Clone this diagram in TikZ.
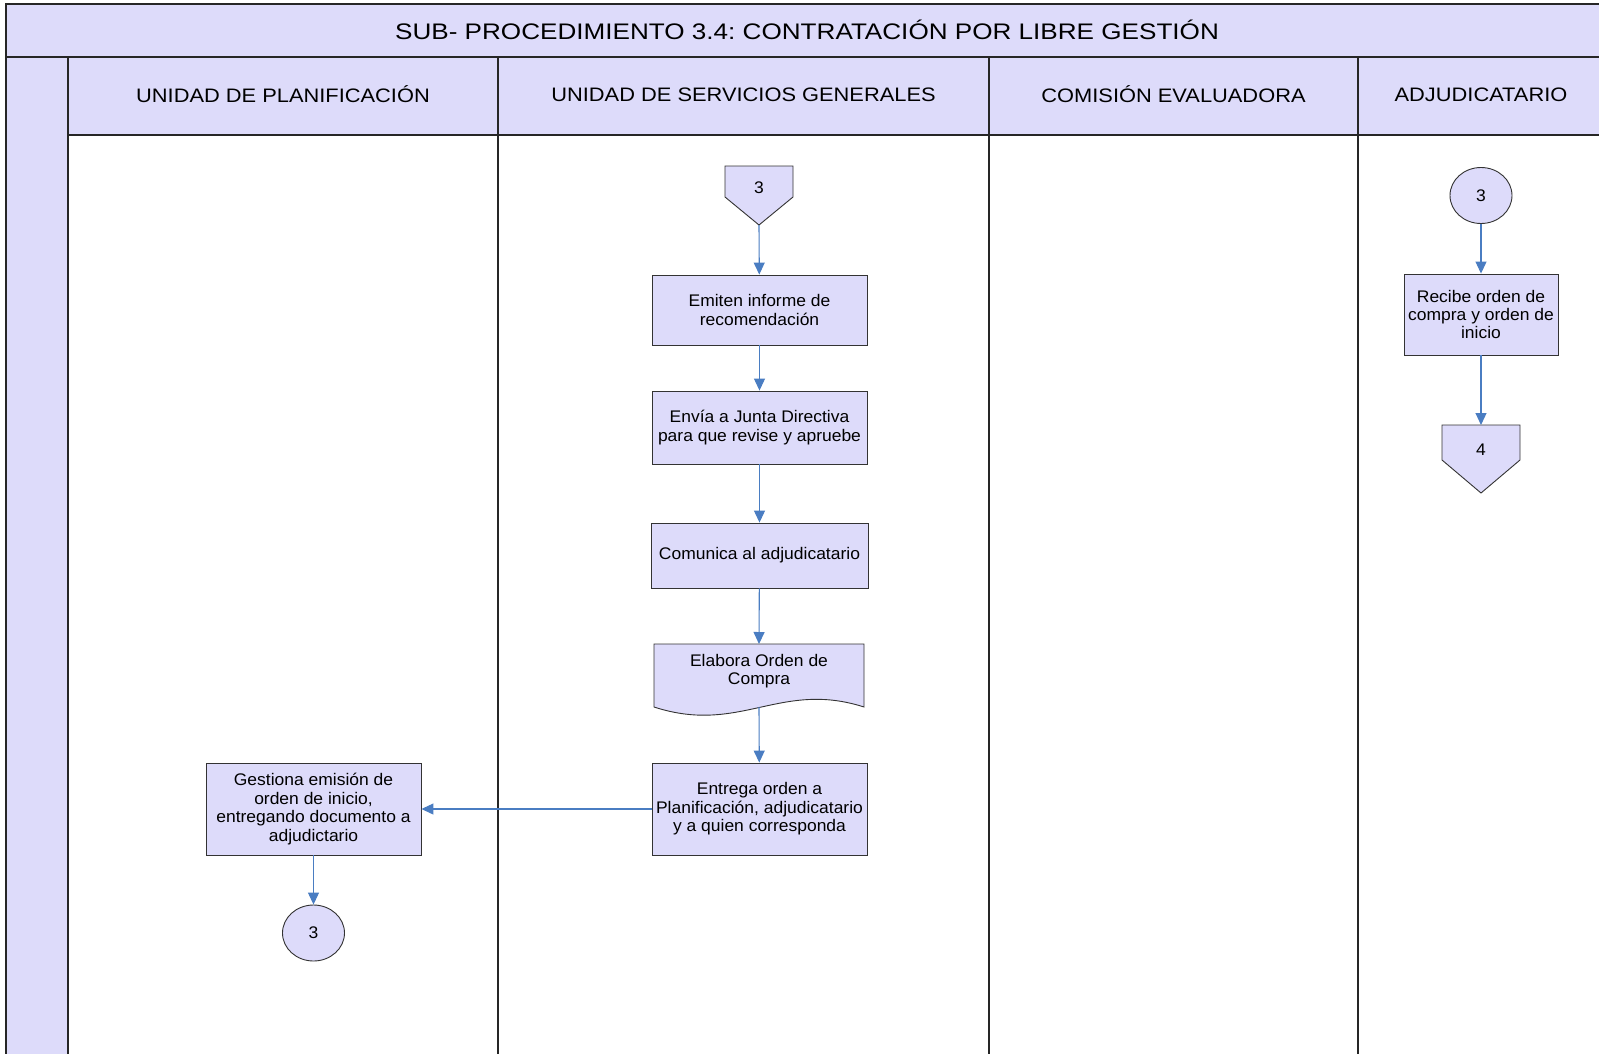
\documentclass[tikz,border=0pt]{standalone}
\usepackage{fontspec}
\setmainfont{Liberation Sans}[FakeStretch=1.04]
\newfontfamily\titlefont{Liberation Sans}[FakeStretch=1.16]
\newfontfamily\lanefont{Liberation Sans}[FakeStretch=1.12]
\usetikzlibrary{arrows.meta,shapes.geometric}
\definecolor{lav}{RGB}{221,219,250}
\definecolor{flowblue}{RGB}{74,125,194}
\frenchspacing
\tikzset{
  lane/.style={draw=black!85, line width=1.5pt},
  lanehead/.style={font=\lanefont\fontsize{19.5}{23}\selectfont},
  shp/.style={draw=black!80, fill=lav, line width=0.9pt},
  act/.style={shp, align=center, inner sep=1pt, font=\fontsize{16.8}{18.4}\selectfont},
  onpg/.style={act, ellipse, minimum width=62pt, minimum height=56pt},
  lbl/.style={align=center, inner sep=1pt, font=\fontsize{16.8}{18.4}\selectfont},
  flow/.style={draw=flowblue, line width=1.1pt, -{Triangle[length=12pt,width=11pt]}}
}

\begin{document}
\begin{tikzpicture}[x=1pt, y=-1pt]
  \useasboundingbox (0,0) rectangle (1599,1053);
  \fill[white] (0,0) rectangle (1599,1053);

  % title and lanes
  \draw[lane, fill=lav] (6,4) rectangle (1612,57);
  \node[font=\titlefont\fontsize{22.5}{26}\selectfont] (titulo) at (807,30)
    {SUB- PROCEDIMIENTO 3.4: CONTRATACIÓN POR LIBRE GESTIÓN};
  \draw[lane, fill=lav] (6,57) rectangle (68,1060);
  \foreach \xa/\xb/\nom [count=\i] in {68/498/UNIDAD DE PLANIFICACIÓN,
      498/989/UNIDAD DE SERVICIOS GENERALES, 989/1358/COMISIÓN EVALUADORA,
      1358/1604/ADJUDICATARIO}
  {
    \draw[lane, fill=lav] (\xa,57) rectangle (\xb,135);
    \draw[lane] (\xa,135) rectangle (\xb,1060);
    \node[lanehead] (lane\i) at ({(\xa+\xb)/2},94.5) {\nom};
  }

  % unidad de servicios generales
  \draw[shp] (725,166) -- (793,166) -- (793,197) -- (759,225) -- (725,197) -- cycle;
  \node[lbl] (op3) at (759,188) {3};
  \coordinate (op3tip) at (759,225);
  \node[act, minimum width=215pt, minimum height=70pt] (emite) at (759.5,310)
    {Emiten informe de\\recomendación};
  \node[act, minimum width=215pt, minimum height=73pt] (envia) at (759.5,427.5)
    {Envía a Junta Directiva\\para que revise y apruebe};
  \node[act, minimum width=217pt, minimum height=65pt] (comunica) at (759.5,555.5)
    {Comunica al adjudicatario};
  \draw[shp] (654,644) -- (864,644) -- (864,707)
    .. controls (780,680) and (740,735) .. (654,707) -- cycle;
  \node[lbl] (orden) at (759,671) {Elabora Orden de\\Compra};
  \coordinate (ordtop) at (759,644);
  \coordinate (ordbot) at (759,707);
  \node[act, minimum width=215pt, minimum height=92pt] (entrega) at (759.5,809)
    {Entrega orden a\\Planificación, adjudicatario\\y a quien corresponda};

  % unidad de planificacion
  \node[act, minimum width=215pt, minimum height=92pt] (gestiona) at (313.5,809)
    {Gestiona emisión de\\orden de inicio,\\entregando documento a\\adjudictario};
  \node[onpg] (fin3) at (313.5,933) {3};

  % adjudicatario
  \node[onpg] (ini3) at (1481,195.5) {3};
  \node[act, minimum width=154pt, minimum height=81pt] (recibe) at (1481,314.5)
    {Recibe orden de\\compra y orden de\\inicio};
  \draw[shp] (1442,425) -- (1520,425) -- (1520,460) -- (1481,493) -- (1442,460) -- cycle;
  \node[lbl] (op4) at (1481,450) {4};
  \coordinate (op4top) at (1481,425);

  \draw[flow] (op3tip) -- (emite);
  \draw[flow] (emite) -- (envia);
  \draw[flow] (envia) -- (comunica);
  \draw[flow] (comunica) -- (ordtop);
  \draw[flow] (ordbot) -- (entrega);
  \draw[flow] (entrega) -- (gestiona);
  \draw[flow] (gestiona) -- (fin3);
  \draw[flow] (ini3) -- (recibe);
  \draw[flow] (recibe) -- (op4top);
\end{tikzpicture}
\end{document}
